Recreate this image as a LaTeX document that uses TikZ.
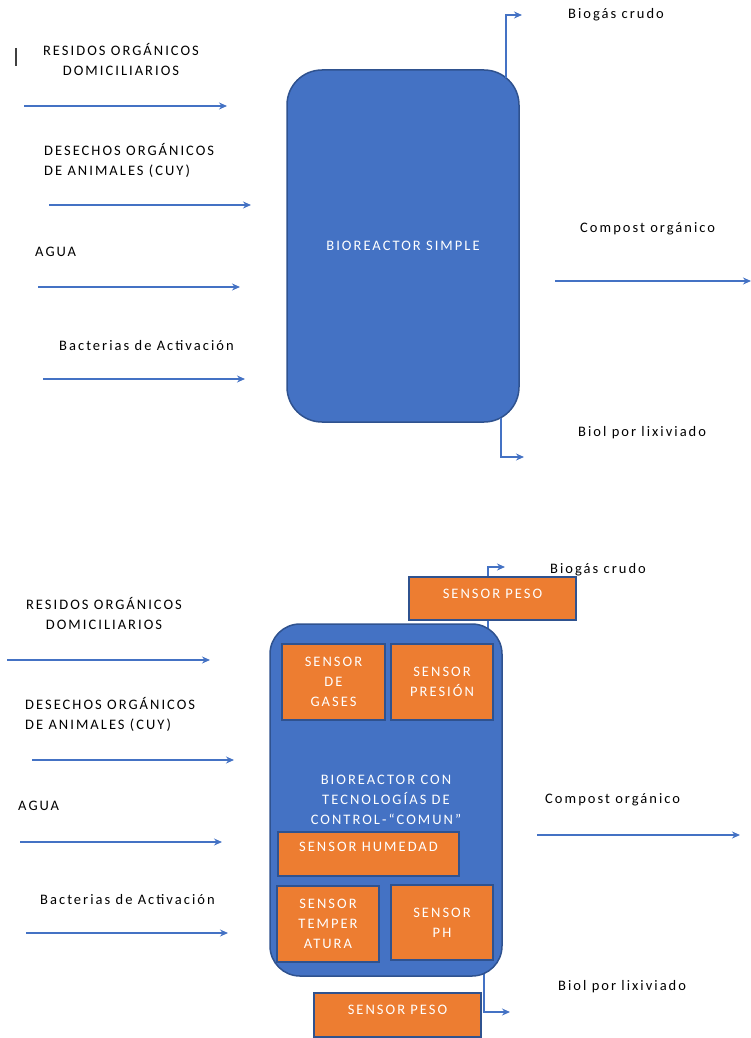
\documentclass[tikz,border=0pt]{standalone}
\usepackage{fontspec}
\setmainfont{Carlito}
\usepackage{tikz}
\usepackage{xcolor}
\usetikzlibrary{positioning}
\usetikzlibrary{arrows.meta}

\definecolor{reactorblue}{HTML}{4472C4}
\definecolor{reactoredge}{HTML}{2F528F}
\definecolor{sensororange}{HTML}{ED7D31}

\newcommand{\wide}{\fontsize{14.5}{20}\selectfont\addfontfeatures{LetterSpace=14}}

\begin{document}
\begin{tikzpicture}[x=1pt, y=-1pt,
		flow/.style={draw=reactorblue, line width=1.2pt, -{Stealth[length=8pt,width=7pt]}},
		reactor/.style={draw=reactoredge, line width=1.5pt, fill=reactorblue, rounded corners=#1, text=white, font=\wide, align=center},
		sensorbox/.style={draw=reactoredge, line width=1.2pt, fill=sensororange, text=white, font=\wide, align=center, inner sep=0pt},
		lbl/.style={font=\wide, inner sep=0pt, anchor=west, align=left}]
	\useasboundingbox (0,0) rectangle (751,1038);
	\draw[black!75, line width=1.2pt] (16,48) -- (16,66);

	% bioreactor simple
	\node[reactor=35, minimum width=232pt, minimum height=352pt] (reactA) at (403,246) {BIOREACTOR SIMPLE};
	\foreach \i/\xa/\xb/\y in {1/24/227/106, 2/49/251/205, 3/38/240/287, 4/43/245/379} {
		\coordinate (inA\i) at (\xa,\y);
		\coordinate (toA\i) at (\xb,\y);
		\draw[flow] (inA\i) -- (toA\i);
	}
	\node[lbl, anchor=center, align=center] (resA) at (121,59) {RESIDOS ORGÁNICOS\\DOMICILIARIOS};
	\node[lbl] (desA) at (44,160) {DESECHOS ORGÁNICOS\\DE ANIMALES (CUY)};
	\node[lbl] (aguaA) at (35,252) {AGUA};
	\node[lbl] (bacA) at (59,346) {Bacterias de Activación};
	\coordinate (gasA0) at (506,78);
	\coordinate (gasA1) at (522,15);
	\draw[flow] (gasA0) |- (gasA1);
	\node[lbl] (gasA) at (568,15) {Biogás crudo};
	\coordinate (compA0) at (555,281);
	\coordinate (compA1) at (751,281);
	\draw[flow] (compA0) -- (compA1);
	\node[lbl] (compA) at (580,229) {Compost orgánico};
	\coordinate (biolA0) at (501,418);
	\coordinate (biolA1) at (524,457);
	\draw[flow] (biolA0) |- (biolA1);
	\node[lbl] (biolA) at (578,433) {Biol por lixiviado};

	% bioreactor con sensores
	\coordinate (gasB0) at (488,629);
	\coordinate (gasB1) at (505,567);
	\draw[flow] (gasB0) |- (gasB1);
	\coordinate (biolB0) at (484,973);
	\coordinate (biolB1) at (510,1012);
	\draw[flow] (biolB0) |- (biolB1);
	\node[reactor=30, minimum width=232pt, minimum height=352pt] (reactB) at (386,800) {BIOREACTOR CON\\TECNOLOGÍAS DE\\CONTROL-“COMUN”};
	\node[sensorbox, minimum width=103pt, minimum height=76pt] (gases) at (333.5,682) {SENSOR\\DE\\GASES};
	\node[sensorbox, minimum width=102pt, minimum height=76pt] (presion) at (442,682) {SENSOR\\PRESIÓN};
	\node[sensorbox, minimum width=181pt, minimum height=44pt, text depth=14pt] (humedad) at (368.5,854) {SENSOR HUMEDAD};
	\node[sensorbox, minimum width=102pt, minimum height=76pt] (temp) at (328,924) {SENSOR\\TEMPER\\ATURA};
	\node[sensorbox, minimum width=102pt, minimum height=75pt] (ph) at (442,922.5) {SENSOR\\PH};
	\node[sensorbox, minimum width=167pt, minimum height=43pt, text depth=10pt] (pesoTop) at (492.5,598.5) {SENSOR PESO};
	\node[sensorbox, minimum width=167pt, minimum height=44pt, text depth=10pt] (pesoBot) at (397.5,1015) {SENSOR PESO};
	\foreach \i/\xa/\xb/\y in {1/7/210/660, 2/32/234/760, 3/20/222/842, 4/26/228/933} {
		\coordinate (inB\i) at (\xa,\y);
		\coordinate (toB\i) at (\xb,\y);
		\draw[flow] (inB\i) -- (toB\i);
	}
	\node[lbl, anchor=center, align=center] (resB) at (104,613) {RESIDOS ORGÁNICOS\\DOMICILIARIOS};
	\node[lbl] (desB) at (25,714) {DESECHOS ORGÁNICOS\\DE ANIMALES (CUY)};
	\node[lbl] (aguaB) at (18,806) {AGUA};
	\node[lbl] (bacB) at (40,900) {Bacterias de Activación};
	\node[lbl] (gasB) at (550,570) {Biogás crudo};
	\coordinate (compB0) at (537,835);
	\coordinate (compB1) at (740,835);
	\draw[flow] (compB0) -- (compB1);
	\node[lbl] (compB) at (545,800) {Compost orgánico};
	\node[lbl] (biolB) at (558,987) {Biol por lixiviado};
\end{tikzpicture}
\end{document}
